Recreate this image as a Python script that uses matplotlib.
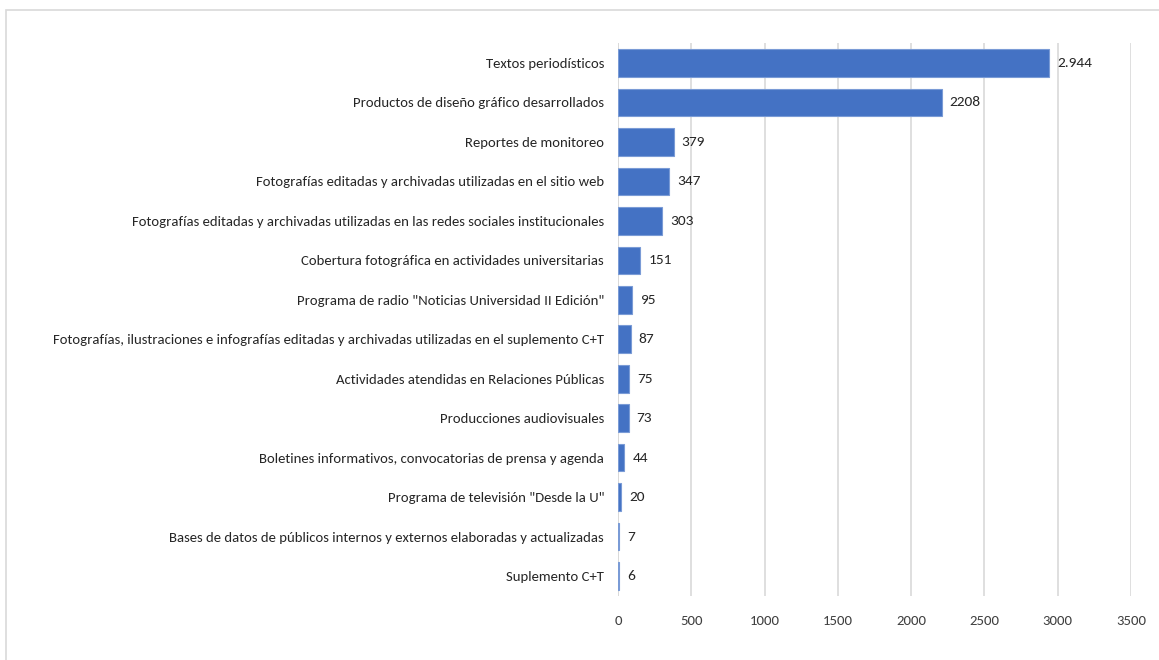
import matplotlib.pyplot as plt
import matplotlib.patches as mpatches
from matplotlib import font_manager

categories = [
    "Textos periodísticos",
    "Productos de diseño gráfico desarrollados",
    "Reportes de monitoreo",
    "Fotografías editadas y archivadas utilizadas en el sitio web",
    "Fotografías editadas y archivadas utilizadas en las redes sociales institucionales",
    "Cobertura fotográfica en actividades universitarias",
    'Programa de radio "Noticias Universidad II Edición"',
    "Fotografías, ilustraciones e infografías editadas y archivadas utilizadas en el suplemento C+T",
    "Actividades atendidas en Relaciones Públicas",
    "Producciones audiovisuales",
    "Boletines informativos, convocatorias de prensa y agenda",
    'Programa de televisión "Desde la U"',
    "Bases de datos de públicos internos y externos elaboradas y actualizadas",
    "Suplemento C+T",
]
values = [2944, 2208, 379, 347, 303, 151, 95, 87, 75, 73, 44, 20, 7, 6]
value_labels = ["2.944", "2208", "379", "347", "303", "151", "95", "87", "75", "73", "44", "20", "7", "6"]
xticks = [0, 500, 1000, 1500, 2000, 2500, 3000, 3500]

# pick a narrow font similar to Calibri
names = {f.name for f in font_manager.fontManager.ttflist}
choices = ["Carlito", "Liberation Sans Narrow", "Roboto Condensed", "Open Sans Condensed",
           "IBM Plex Sans Condensed", "Open Sans", "DejaVu Sans"]
font = next(c for c in choices if c in names)
plt.rcParams["font.family"] = [font, "DejaVu Sans"]

fig = plt.figure(figsize=(11.59, 6.60), dpi=100)
ax = fig.add_axes([0.5332, 0.0974, 0.4426, 0.8370])

# scale font so the longest label spans about 552 px, as in the reference
probe = fig.text(0, 0, categories[7], fontsize=10)
w = probe.get_window_extent(fig.canvas.get_renderer()).width
probe.remove()
fs = min(10 * 552 / w, 12)

y = list(range(len(categories)))
ax.barh(y, values, height=0.7, color="#4472C4", edgecolor="#7A9BD6", linewidth=0.8, zorder=3)
for yi, v, lab in zip(y, values, value_labels):
    ax.text(v + 55, yi, lab, va="center", ha="left", fontsize=fs + 0.5, color="#262626")

ax.set_yticks(y)
ax.set_yticklabels(categories, fontsize=fs, color="#262626")
ax.set_ylim(len(categories) - 0.5, -0.5)
ax.set_xlim(0, 3500)
ax.set_xticks(xticks)
ax.set_xticklabels([str(t) for t in xticks], fontsize=fs, color="#404040")
ax.tick_params(axis="both", length=0)
ax.tick_params(axis="x", pad=14)
ax.tick_params(axis="y", pad=10)
ax.grid(axis="x", color="#D9D9D9", linewidth=1.2, zorder=0)
for s in ax.spines.values():
    s.set_visible(False)
ax.axvline(0, color="#D9D9D9", linewidth=1.2, zorder=1)

fig.patches.append(mpatches.Rectangle((6 / 1159, -0.1), 1.2, 1 - 10 / 660 + 0.1,
                                      transform=fig.transFigure, fill=False,
                                      edgecolor="#D9D9D9", linewidth=1.2))

fig.savefig("out.png", dpi=100)
